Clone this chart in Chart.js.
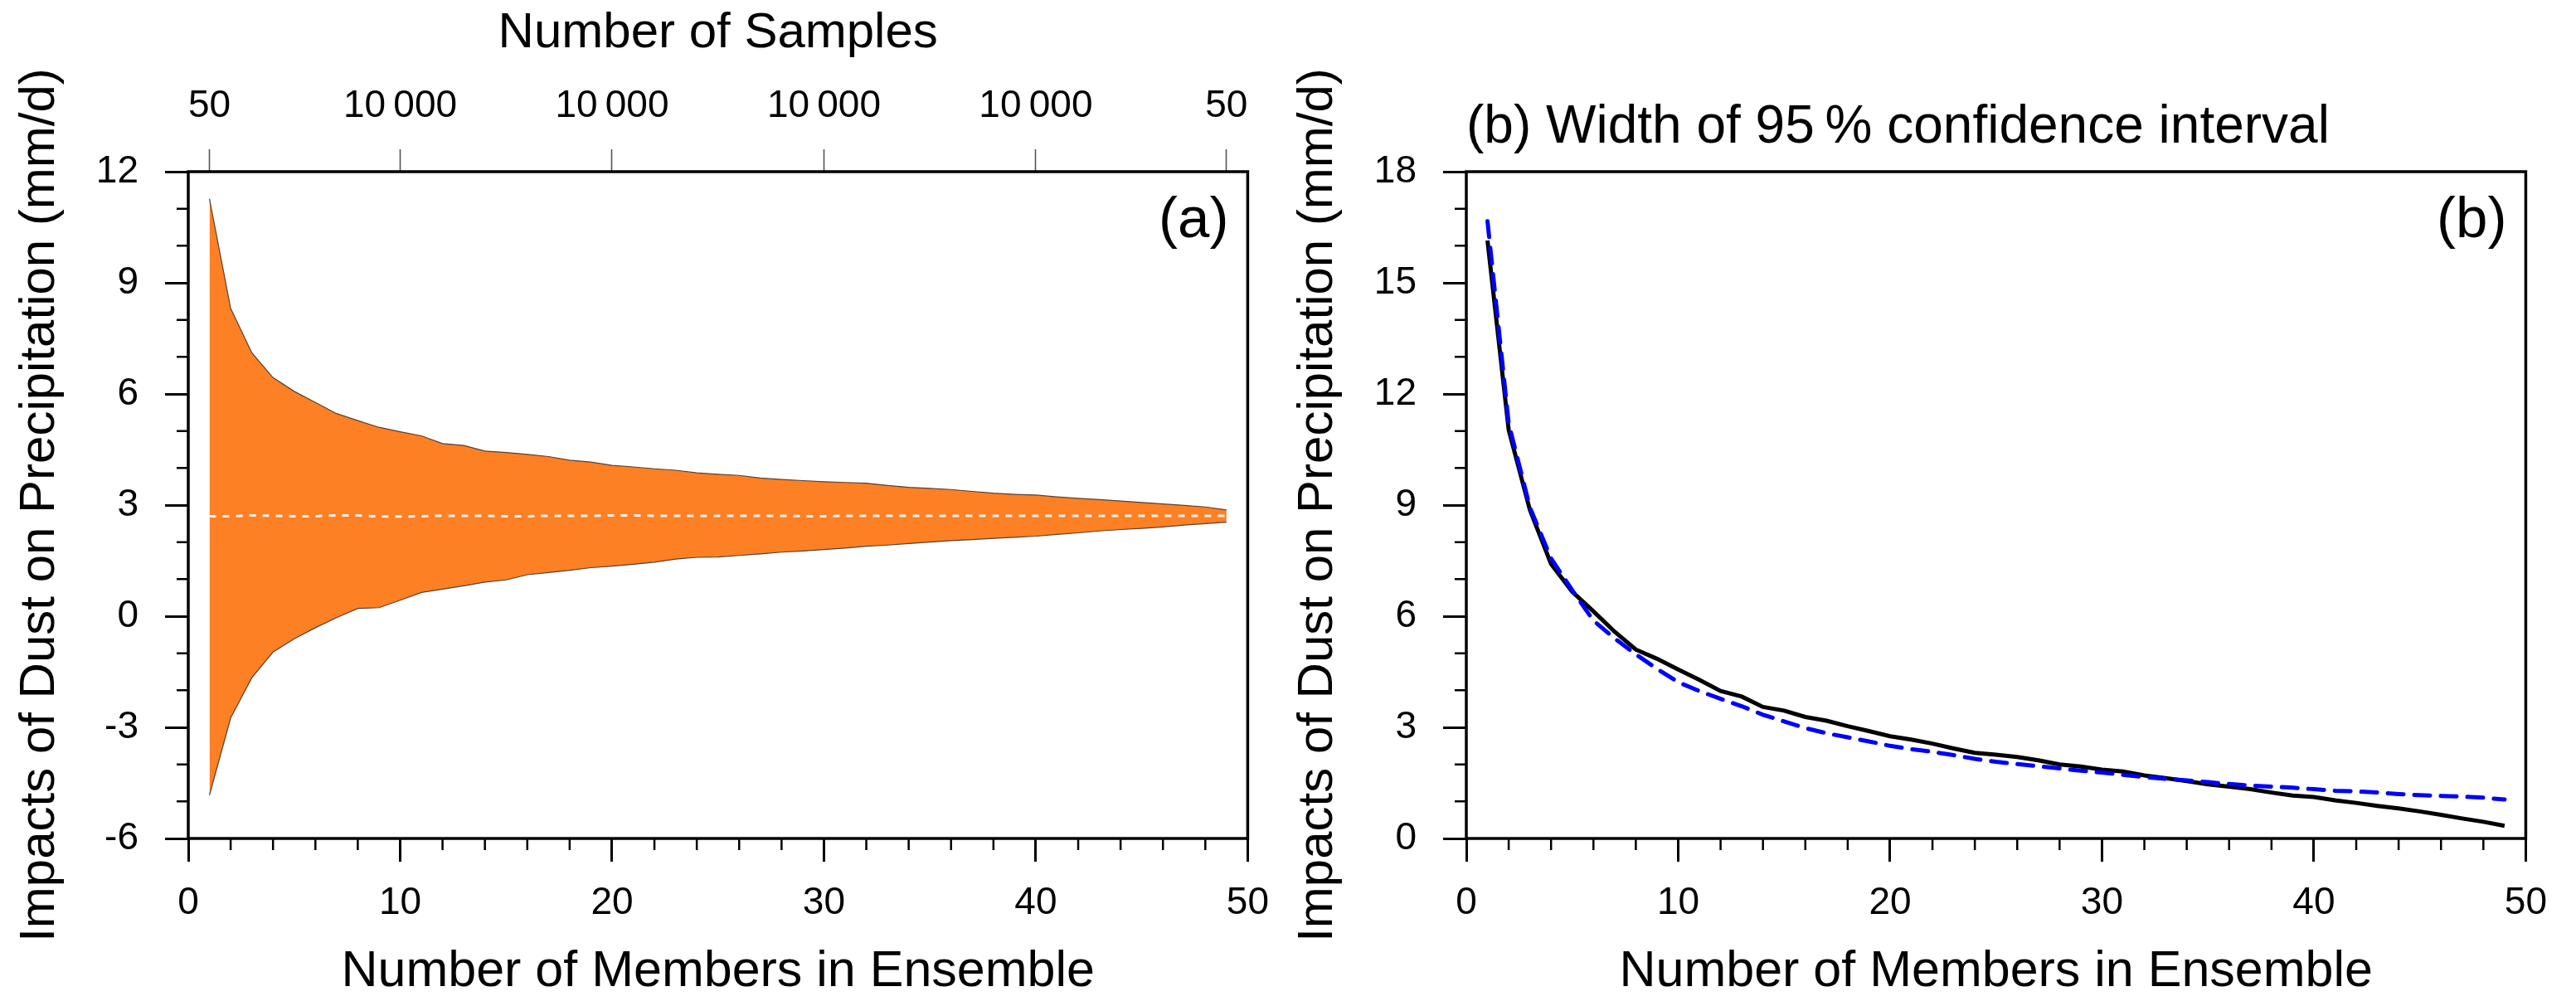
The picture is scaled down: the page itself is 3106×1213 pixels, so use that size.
<!DOCTYPE html>
<html>
<head>
<meta charset="utf-8">
<title>Ensemble size and dust impact on precipitation</title>
<script src="https://cdn.jsdelivr.net/npm/chart.js@4.4.1/dist/chart.umd.min.js"></script>
<style>
  html, body { margin: 0; padding: 0; background: #fff; }
  body { width: 3106px; height: 1213px; position: relative; overflow: hidden; }
  canvas { position: absolute; top: 0; }
  #chartA { left: 0; }
  #chartB { left: 1541px; }
</style>
</head>
<body>
<canvas id="chartA" width="1553" height="1213"></canvas>
<canvas id="chartB" width="1553" height="1213"></canvas>
<script>
// members in ensemble (x)
const members = [1, 2, 3, 4, 5, 6, 7, 8, 9, 10, 11, 12, 13, 14, 15, 16, 17, 18, 19, 20,
  21, 22, 23, 24, 25, 26, 27, 28, 29, 30, 31, 32, 33, 34, 35, 36, 37, 38, 39, 40,
  41, 42, 43, 44, 45, 46, 47, 48, 49];

// (a) spread of the dust impact (mm/d)
const upperBound = [11.27, 8.31, 7.11, 6.44, 6.07, 5.77, 5.47, 5.28, 5.10, 4.98,
  4.87, 4.66, 4.61, 4.46, 4.42, 4.37, 4.31, 4.21, 4.16, 4.07,
  4.03, 3.98, 3.94, 3.87, 3.83, 3.80, 3.73, 3.69, 3.66, 3.63,
  3.61, 3.59, 3.53, 3.48, 3.45, 3.42, 3.37, 3.32, 3.29, 3.27,
  3.22, 3.18, 3.15, 3.11, 3.07, 3.03, 2.99, 2.95, 2.87];
const lowerBound = [-4.83, -2.75, -1.66, -0.97, -0.61, -0.31, -0.04, 0.21, 0.23, 0.43,
  0.64, 0.73, 0.82, 0.92, 0.98, 1.12, 1.18, 1.24, 1.31, 1.35,
  1.40, 1.46, 1.54, 1.59, 1.60, 1.64, 1.68, 1.73, 1.76, 1.80,
  1.84, 1.89, 1.92, 1.96, 2.00, 2.04, 2.07, 2.10, 2.13, 2.16,
  2.21, 2.25, 2.30, 2.34, 2.37, 2.41, 2.46, 2.50, 2.54];
const ensembleMean = [2.70, 2.70, 2.72, 2.71, 2.70, 2.70, 2.72, 2.72, 2.69, 2.69,
  2.70, 2.71, 2.71, 2.71, 2.70, 2.70, 2.71, 2.71, 2.71, 2.72,
  2.72, 2.71, 2.71, 2.71, 2.71, 2.71, 2.71, 2.71, 2.70, 2.70,
  2.71, 2.71, 2.71, 2.71, 2.71, 2.71, 2.71, 2.71, 2.71, 2.71,
  2.71, 2.71, 2.71, 2.71, 2.71, 2.71, 2.71, 2.71, 2.71];

// top axis of (a): number of samples
const sampleTicks = [1, 10, 20, 30, 40, 49];
const sampleLabels = ['50', '10\u2009000', '10\u2009000', '10\u2009000', '10\u2009000', '50'];

// (b) width of 95 % confidence interval (mm/d)
const widthSampled = [16.14, 11.03, 8.87, 7.41, 6.66, 6.13, 5.58, 5.10, 4.85, 4.56,
  4.28, 3.98, 3.83, 3.55, 3.45, 3.28, 3.18, 3.03, 2.90, 2.76,
  2.67, 2.56, 2.43, 2.31, 2.26, 2.20, 2.11, 2.00, 1.94, 1.86,
  1.81, 1.70, 1.63, 1.55, 1.46, 1.40, 1.33, 1.24, 1.16, 1.12,
  1.03, 0.96, 0.88, 0.81, 0.73, 0.64, 0.54, 0.45, 0.34];
const widthTheory = [16.66, 11.20, 8.94, 7.56, 6.70, 5.88, 5.40, 4.97, 4.58, 4.22,
  3.98, 3.77, 3.57, 3.34, 3.16, 2.98, 2.84, 2.73, 2.62, 2.50,
  2.41, 2.34, 2.25, 2.15, 2.07, 2.01, 1.95, 1.89, 1.83, 1.78,
  1.72, 1.66, 1.61, 1.57, 1.52, 1.47, 1.43, 1.40, 1.37, 1.33,
  1.29, 1.27, 1.24, 1.20, 1.17, 1.15, 1.13, 1.10, 1.05];

// minor tick positions
const minorX = [2, 4, 6, 8, 12, 14, 16, 18, 22, 24, 26, 28, 32, 34, 36, 38, 42, 44, 46, 48];
const minorYa = [-5, -4, -2, -1, 1, 2, 4, 5, 7, 8, 10, 11];
const minorYb = [1, 2, 4, 5, 7, 8, 10, 11, 13, 14, 16, 17];

const FONT = "'Liberation Sans', Arial, Helvetica, sans-serif";
Chart.defaults.font.family = FONT;
Chart.defaults.color = '#000';

const pts = (ys) => members.map((m, i) => ({ x: m, y: ys[i] }));

// frame, minor ticks and panel texts
const decorations = {
  id: 'decorations',
  afterDraw(chart, args, opts) {
    const ctx = chart.ctx;
    const a = chart.chartArea;
    const xs = chart.scales.x, ys = chart.scales.y;
    ctx.save();
    ctx.strokeStyle = '#000';
    ctx.lineWidth = 2.5;
    ctx.beginPath();
    opts.minorX.forEach(v => {
      const px = xs.getPixelForValue(v);
      ctx.moveTo(px, a.bottom);
      ctx.lineTo(px, a.bottom + 14);
    });
    opts.minorY.forEach(v => {
      const py = ys.getPixelForValue(v);
      ctx.moveTo(a.left, py);
      ctx.lineTo(a.left - 14, py);
    });
    ctx.stroke();

    ctx.lineWidth = 3.5;
    ctx.strokeRect(a.left, a.top, a.right - a.left, a.bottom - a.top);

    ctx.fillStyle = '#000';
    ctx.textBaseline = 'alphabetic';
    ctx.font = '69px ' + FONT;
    ctx.textAlign = 'right';
    ctx.fillText(opts.tag, a.right - 23, a.top + 79);
    if (opts.title) {
      ctx.font = '64px ' + FONT;
      ctx.textAlign = 'left';
      ctx.fillText(opts.title, a.left, a.top - 35);
    }
    ctx.restore();
  }
};

const yTitle = 'Impacts of Dust on Precipitation (mm/d)';
const xTitle = 'Number of Members in Ensemble';

const xScale = {
  type: 'linear', position: 'bottom', min: 0, max: 50,
  afterFit: s => { s.height = 202; },
  border: { display: false },
  grid: { drawOnChartArea: false, drawTicks: true, tickLength: 28, tickWidth: 3, tickColor: '#000' },
  ticks: { stepSize: 10, padding: 23, font: { size: 46 }, maxRotation: 0 },
  title: { display: true, text: xTitle, font: { size: 61 }, padding: { top: 0, bottom: 4 } }
};

function yScale(min, max) {
  return {
    type: 'linear', position: 'left', min: min, max: max,
    afterFit: s => { s.width = 227; },
    border: { display: false },
    grid: { drawOnChartArea: false, drawTicks: true, tickLength: 28, tickWidth: 3, tickColor: '#000' },
    ticks: { stepSize: 3, padding: 32, font: { size: 46 } },
    title: { display: true, text: yTitle, font: { size: 60 }, padding: { top: 12, bottom: 0 } }
  };
}

new Chart(document.getElementById('chartA'), {
  type: 'line',
  data: {
    datasets: [
      {
        label: 'mean',
        data: pts(ensembleMean),
        borderColor: '#f2f2f2',
        borderWidth: 3,
        borderDash: [8, 8],
        pointRadius: 0,
        fill: false
      },
      {
        label: 'upper',
        data: pts(upperBound),
        borderColor: '#5a4030',
        borderWidth: 1.2,
        backgroundColor: '#fd8024',
        pointRadius: 0,
        fill: '+1'
      },
      {
        label: 'lower',
        data: pts(lowerBound),
        borderColor: '#5a4030',
        borderWidth: 1.2,
        pointRadius: 0,
        fill: false
      }
    ]
  },
  options: {
    responsive: false,
    animation: false,
    devicePixelRatio: 1,
    layout: { padding: { left: 0, right: 40, top: 0, bottom: 0 } },
    scales: {
      x: xScale,
      xTop: {
        type: 'linear', position: 'top', min: 0, max: 50,
        afterFit: s => { s.height = 207; },
        afterBuildTicks: s => { s.ticks = sampleTicks.map(v => ({ value: v })); },
        border: { display: false },
        grid: { drawOnChartArea: false, drawTicks: true, tickLength: 27, tickWidth: 1.6, tickColor: '#555' },
        ticks: { padding: 24, font: { size: 46 }, maxRotation: 0, autoSkip: false,
          callback: (v, i) => sampleLabels[i] },
        title: { display: true, text: 'Number of Samples', font: { size: 60 }, padding: { top: 4, bottom: 0 } }
      },
      y: yScale(-6, 12)
    },
    plugins: {
      legend: { display: false },
      tooltip: { enabled: false },
      filler: { drawTime: 'beforeDatasetsDraw' },
      decorations: { minorX: minorX, minorY: minorYa, tag: '(a)' }
    }
  },
  plugins: [decorations]
});

new Chart(document.getElementById('chartB'), {
  type: 'line',
  data: {
    datasets: [
      {
        label: 'theory',
        data: pts(widthTheory),
        borderColor: '#0000ff',
        borderWidth: 5,
        borderDash: [19, 13],
        borderCapStyle: 'round',
        pointRadius: 0,
        fill: false
      },
      {
        label: 'sampled',
        data: pts(widthSampled),
        borderColor: '#000',
        borderWidth: 5,
        pointRadius: 0,
        fill: false
      }
    ]
  },
  options: {
    responsive: false,
    animation: false,
    devicePixelRatio: 1,
    layout: { padding: { left: 0, right: 40, top: 207, bottom: 0 } },
    scales: {
      x: xScale,
      y: yScale(0, 18)
    },
    plugins: {
      legend: { display: false },
      tooltip: { enabled: false },
      decorations: { minorX: minorX, minorY: minorYb, tag: '(b)',
        title: '(b) Width of 95\u2009% confidence interval' }
    }
  },
  plugins: [decorations]
});
</script>
</body>
</html>
